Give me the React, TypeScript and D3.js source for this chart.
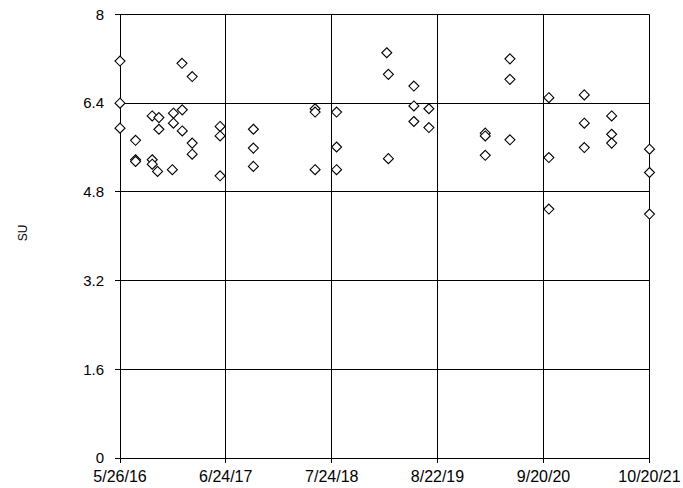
import React from "react";
import * as d3 from "d3";

const W = 683;
const H = 488;

const xTickLabels = ["5/26/16", "6/24/17", "7/24/18", "8/22/19", "9/20/20", "10/20/21"];
const yTicks = [0, 1.6, 3.2, 4.8, 6.4, 8];
const yLabel = "SU";

const sampleDates = [
  "2016-05-26", "2016-05-26", "2016-05-26",
  "2016-07-23", "2016-07-23", "2016-07-23",
  "2016-09-23", "2016-09-23", "2016-09-23",
  "2016-10-18", "2016-10-18", "2016-10-13",
  "2016-12-11", "2016-12-11", "2016-12-07",
  "2017-01-12", "2017-01-13", "2017-01-13",
  "2017-02-19", "2017-02-19", "2017-02-19",
  "2017-06-03", "2017-06-03", "2017-06-03",
  "2017-10-05", "2017-10-05", "2017-10-05",
  "2018-05-23", "2018-05-23", "2018-05-23",
  "2018-08-11", "2018-08-11", "2018-08-11",
  "2019-02-14", "2019-02-20", "2019-02-20",
  "2019-05-26", "2019-05-26", "2019-05-26",
  "2019-07-21", "2019-07-21",
  "2020-02-16", "2020-02-16", "2020-02-16",
  "2020-05-18", "2020-05-18", "2020-05-18",
  "2020-10-10", "2020-10-10", "2020-10-10",
  "2021-02-19", "2021-02-19", "2021-02-19",
  "2021-06-01", "2021-06-01", "2021-06-01",
  "2021-10-20", "2021-10-20", "2021-10-20",
];

const sampleValues = [
  7.16, 6.40, 5.95,
  5.73, 5.38, 5.35,
  6.17, 5.38, 5.30,
  6.14, 5.93, 5.17,
  6.22, 6.04, 5.20,
  7.12, 6.28, 5.90,
  6.88, 5.68, 5.48,
  5.98, 5.81, 5.09,
  5.93, 5.59, 5.26,
  6.30, 6.24, 5.20,
  6.24, 5.61, 5.20,
  7.31, 6.92, 5.40,
  6.71, 6.35, 6.07,
  6.30, 5.96,
  5.86, 5.81, 5.46,
  7.20, 6.83, 5.74,
  6.50, 5.42, 4.49,
  6.55, 6.04, 5.60,
  6.17, 5.84, 5.68,
  5.57, 5.15, 4.40,
];

const parse = (s: string) => {
  const [y, m, d] = s.split("-").map(Number);
  return new Date(y, m - 1, d);
};
const parseTick = (s: string) => {
  const [m, d, y] = s.split("/").map(Number);
  return new Date(2000 + y, m - 1, d);
};

export default function App() {
  const left = 120;
  const right = 649.5;
  const top = 14.5;
  const bottom = 458;

  const tickDates = xTickLabels.map(parseTick);
  const x = d3
    .scaleTime()
    .domain([tickDates[0], tickDates[tickDates.length - 1]])
    .range([left, right]);
  const y = d3.scaleLinear().domain([0, 8]).range([bottom, top]);

  const crisp = (v: number) => Math.round(v - 0.5) + 0.5;
  const font = "Arial, 'Liberation Sans', sans-serif";
  const r = 5;

  const diamond = (cx: number, cy: number) =>
    `M${cx},${cy - r}L${cx + r},${cy}L${cx},${cy + r}L${cx - r},${cy}Z`;

  return (
    <svg
      width={W}
      height={H}
      style={{ position: "absolute", left: 0, top: 0, background: "#fff" }}
      fontFamily={font}
    >
      <rect x={0} y={0} width={W} height={H} fill="#fff" />
      {/* horizontal gridlines */}
      {yTicks.map((t, i) => (
        <g key={"y" + i}>
          <line
            x1={left - 5}
            x2={right}
            y1={crisp(y(t))}
            y2={crisp(y(t))}
            stroke="#000"
            strokeWidth={1}
          />
          <text
            x={104}
            y={y(t)}
            dy="0.35em"
            textAnchor="end"
            fontSize={15}
            fill="#000"
          >
            {String(t)}
          </text>
        </g>
      ))}
      {/* vertical gridlines */}
      {tickDates.map((dt, i) => (
        <g key={"x" + i}>
          <line
            x1={crisp(x(dt))}
            x2={crisp(x(dt))}
            y1={top}
            y2={bottom + 5}
            stroke="#000"
            strokeWidth={1}
          />
          <text
            x={x(dt)}
            y={481.5}
            textAnchor="middle"
            fontSize={16}
            fill="#000"
          >
            {xTickLabels[i]}
          </text>
        </g>
      ))}
      <text
        transform={`translate(27,233) rotate(-90)`}
        textAnchor="middle"
        fontSize={12}
        fill="#000"
      >
        {yLabel}
      </text>
      {sampleDates.map((s, i) => (
        <path
          key={"p" + i}
          d={diamond(x(parse(s)), y(sampleValues[i]))}
          fill="#fff"
          stroke="#000"
          strokeWidth={1.1}
        />
      ))}
    </svg>
  );
}
